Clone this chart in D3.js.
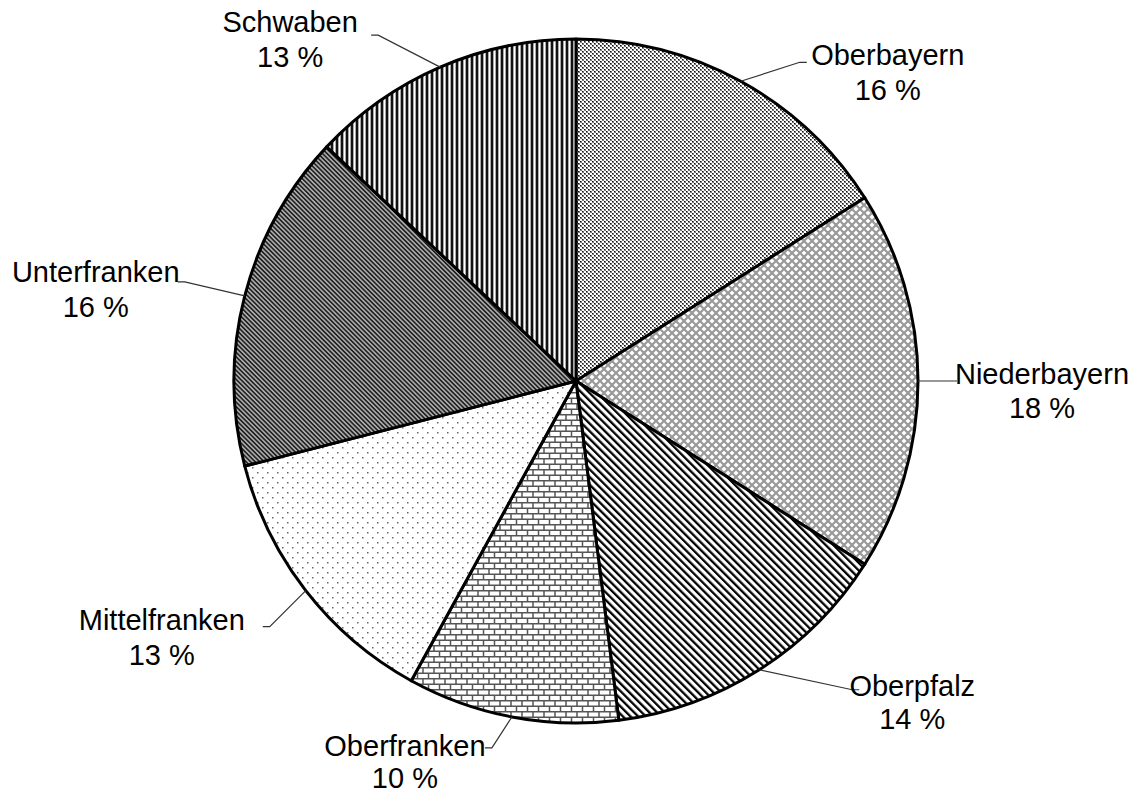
<!DOCTYPE html>
<html><head><meta charset="utf-8">
<script src="https://cdn.jsdelivr.net/npm/d3@7"></script>
<style>html,body{margin:0;padding:0;background:#fff;}svg{display:block;}</style>
</head><body>
<svg id="chart" width="1136" height="793"></svg>
<script>
const categories = ["Oberbayern","Niederbayern","Oberpfalz","Oberfranken","Mittelfranken","Unterfranken","Schwaben"];
const values = [16,18,14,10,13,16,13];
const percentLabels = ["16 %","18 %","14 %","10 %","13 %","16 %","13 %"];
const patternIds = ["pOberbayern","pNiederbayern","pOberpfalz","pOberfranken","pMittelfranken","pUnterfranken","pSchwaben"];
// layout: label centre offset and leader elbow offset from the arc's outer mid point
const labelOffsets = [[147,-26],[124,-7],[153,16],[-107,29],[-144,29],[-149,-24],[-150,-45]];
const elbowOffsets = [[59,-19],[32,0],[93,20],[-20,31],[-36,36],[-60,-14],[-62,-32]];
const lineGaps = [35,34,33,32,35,35,35];

const svg = d3.select("#chart");
const W = 1136, H = 793, cx = 576, cy = 381, R = 342;
const defs = svg.append("defs");

// 1 Oberbayern: dense dotted
let p = defs.append("pattern").attr("id","pOberbayern").attr("width",4).attr("height",4).attr("patternUnits","userSpaceOnUse");
p.append("rect").attr("width",4).attr("height",4).attr("fill","#fff");
p.append("rect").attr("x",0).attr("y",0).attr("width",2).attr("height",2).attr("fill","#777");
p.append("rect").attr("x",2).attr("y",2).attr("width",2).attr("height",2).attr("fill","#777");
p.append("rect").attr("x",0).attr("y",0).attr("width",1).attr("height",1).attr("fill","#111");
p.append("rect").attr("x",2).attr("y",2).attr("width",1).attr("height",1).attr("fill","#111");

// 2 Niederbayern: diagonal crosshatch
p = defs.append("pattern").attr("id","pNiederbayern").attr("width",8).attr("height",8).attr("patternUnits","userSpaceOnUse");
p.append("rect").attr("width",8).attr("height",8).attr("fill","#fff");
p.append("path").attr("d","M0,0L8,8M8,0L0,8M-4,4L4,12M4,-4L12,4M4,12L12,4M-4,4L4,-4").attr("stroke","#9a9a9a").attr("stroke-width",2.2);

// 3 Oberpfalz: wide downward diagonal
p = defs.append("pattern").attr("id","pOberpfalz").attr("width",5.4).attr("height",10).attr("patternUnits","userSpaceOnUse").attr("patternTransform","rotate(-45)");
p.append("rect").attr("width",5.4).attr("height",10).attr("fill","#fff");
p.append("rect").attr("x",0).attr("width",2.3).attr("height",10).attr("fill","#000");

// 4 Oberfranken: horizontal brick
p = defs.append("pattern").attr("id","pOberfranken").attr("width",11).attr("height",11).attr("patternUnits","userSpaceOnUse");
p.append("rect").attr("width",11).attr("height",11).attr("fill","#fff");
p.append("path").attr("d","M0,0.75H11M0,6.25H11M1,0.75V6.25M6.5,6.25V11.75").attr("stroke","#555").attr("stroke-width",1.5);

// 5 Mittelfranken: sparse dots
p = defs.append("pattern").attr("id","pMittelfranken").attr("width",10).attr("height",10).attr("patternUnits","userSpaceOnUse");
p.append("rect").attr("width",10).attr("height",10).attr("fill","#fff");
p.append("rect").attr("x",1).attr("y",1).attr("width",1.5).attr("height",1.5).attr("fill","#666");
p.append("rect").attr("x",6).attr("y",6).attr("width",1.5).attr("height",1.5).attr("fill","#666");

// 6 Unterfranken: dark downward diagonal
p = defs.append("pattern").attr("id","pUnterfranken").attr("width",3.2).attr("height",10).attr("patternUnits","userSpaceOnUse").attr("patternTransform","rotate(-45)");
p.append("rect").attr("width",3.2).attr("height",10).attr("fill","#aaa");
p.append("rect").attr("x",0).attr("width",1.6).attr("height",10).attr("fill","#222");

// 7 Schwaben: vertical stripes
p = defs.append("pattern").attr("id","pSchwaben").attr("width",5).attr("height",5).attr("patternUnits","userSpaceOnUse");
p.append("rect").attr("width",5).attr("height",5).attr("fill","#aaa");
p.append("rect").attr("x",0).attr("width",2).attr("height",5).attr("fill","#111");
p.append("rect").attr("x",3).attr("width",1).attr("height",5).attr("fill","#fff");

const pie = d3.pie().sort(null).value(d => d);
const arcs = pie(values);
const arc = d3.arc().innerRadius(0).outerRadius(R);

const g = svg.append("g").attr("transform",`translate(${cx},${cy})`);
g.selectAll("path.slice").data(arcs).enter().append("path")
  .attr("class","slice")
  .attr("d",arc)
  .attr("fill",(d,i)=>`url(#${patternIds[i]})`)
  .attr("stroke","#000").attr("stroke-width",3).attr("stroke-linejoin","round");

const lab = svg.append("g");
arcs.forEach((d,i)=>{
  const a = (d.startAngle + d.endAngle)/2;
  const ex = cx + R*Math.sin(a), ey = cy - R*Math.cos(a);
  const tx = ex + labelOffsets[i][0], ty = ey + labelOffsets[i][1];
  const bx = ex + elbowOffsets[i][0], by = ey + elbowOffsets[i][1];
  const side = labelOffsets[i][0] > 0 ? 1 : -1;
  lab.append("path")
    .attr("d",`M${ex},${ey}L${bx},${by}L${bx+side*7},${by}`)
    .attr("fill","none").attr("stroke","#333").attr("stroke-width",1.2);
  const t = lab.append("text").attr("text-anchor","middle")
    .attr("font-family","'Liberation Sans', Arial, sans-serif").attr("font-size",29).attr("fill","#000");
  t.append("tspan").attr("x",tx).attr("y",ty).attr("dy","0.35em").text(categories[i]);
  t.append("tspan").attr("x",tx).attr("y",ty+lineGaps[i]).attr("dy","0.35em").text(percentLabels[i]);
});
</script>
</body></html>
